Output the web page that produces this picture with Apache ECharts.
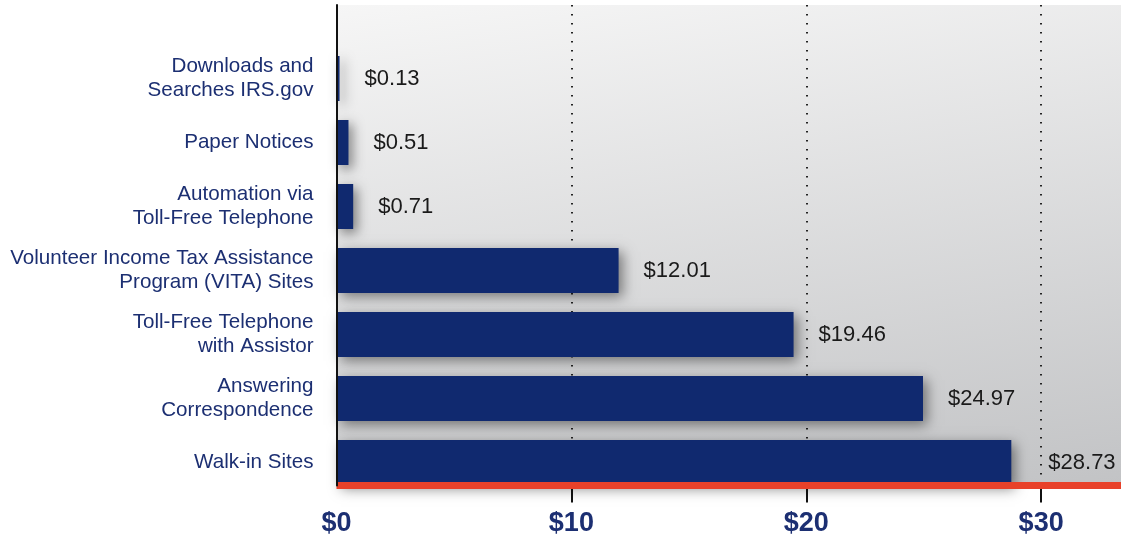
<!DOCTYPE html>
<html>
<head>
<meta charset="utf-8">
<script src="https://cdn.jsdelivr.net/npm/echarts@6/dist/echarts.min.js"></script>
<style>
html,body{margin:0;padding:0;background:#fff;}
#c{width:1121px;height:540px;}
</style>
</head>
<body>
<div id="c"></div>
<script>
const categories = [
  'Downloads and\nSearches IRS.gov',
  'Paper Notices',
  'Automation via\nToll-Free Telephone',
  'Volunteer Income Tax Assistance\nProgram (VITA) Sites',
  'Toll-Free Telephone\nwith Assistor',
  'Answering\nCorrespondence',
  'Walk-in Sites'
];
const values = [0.13, 0.51, 0.71, 12.01, 19.46, 24.97, 28.73];
const tickValues = [0, 10, 20, 30];
const xMax = 33.4;

const navy = '#1c2f72';
const barColor = '#10296f';
const fontFam = '"Liberation Sans", Arial, sans-serif';

const barData = values.map((v, i) => (
  i === values.length - 1 ? {value: v, label: {distance: 37}} : v
));

const chart = echarts.init(document.getElementById('c'), null, {renderer: 'canvas'});
const option = {
  animation: false,
  grid: [
    {
      left: 336.5, right: 0, top: 5, bottom: 54.5,
      show: true, borderWidth: 0,
      backgroundColor: new echarts.graphic.LinearGradient(0, 0, 0.114, 1.22, [
        {offset: 0, color: '#f6f6f6'},
        {offset: 1, color: '#c2c3c5'}
      ])
    },
    {left: 336.5, right: 0, top: 46.5, height: 448}
  ],
  xAxis: [
    {
      gridIndex: 0, type: 'value', min: 0, max: xMax, interval: 10,
      position: 'bottom', z: 0,
      axisLine: {show: false},
      axisTick: {show: true, length: 17, customValues: tickValues.slice(1),
        lineStyle: {color: '#111', width: 2}},
      splitLine: {show: true, lineStyle: {color: '#222', width: 2, type: [1.5, 7.5]}},
      axisLabel: {
        customValues: tickValues,
        formatter: v => '$' + v,
        color: navy, fontSize: 27, fontWeight: 'bold', fontFamily: fontFam,
        margin: 25
      }
    },
    {
      gridIndex: 1, type: 'value', min: 0, max: xMax, show: false
    },
    {
      gridIndex: 0, type: 'value', min: 0, max: xMax, interval: 10,
      position: 'bottom', z: 10,
      axisLine: {show: true, onZero: false, lineStyle: {color: '#e8412a', width: 7, cap: 'butt'}},
      axisTick: {show: false}, splitLine: {show: false}, axisLabel: {show: false}
    }
  ],
  yAxis: [
    {
      gridIndex: 0, type: 'value', min: 0, max: 1, z: 11,
      axisLine: {show: true, lineStyle: {color: '#111', width: 2}},
      axisTick: {show: false}, splitLine: {show: false}, axisLabel: {show: false}
    },
    {
      gridIndex: 1, type: 'category', data: categories, inverse: true,
      axisLine: {show: false}, axisTick: {show: false}, splitLine: {show: false},
      axisLabel: {
        color: navy, fontSize: 20.6, lineHeight: 24, fontFamily: fontFam,
        margin: 23, align: 'right'
      }
    }
  ],
  series: [
    {
      type: 'bar', xAxisIndex: 1, yAxisIndex: 1,
      data: barData, barWidth: 45,
      itemStyle: {
        color: barColor,
        shadowColor: 'rgba(0,0,0,0.45)', shadowBlur: 12,
        shadowOffsetX: 4, shadowOffsetY: 4
      },
      label: {
        show: true, position: 'right', distance: 25,
        formatter: p => '$' + p.value.toFixed(2),
        color: '#1a1a1a', fontSize: 22, fontFamily: fontFam
      }
    }
  ]
};
chart.setOption(option);
</script>
</body>
</html>
